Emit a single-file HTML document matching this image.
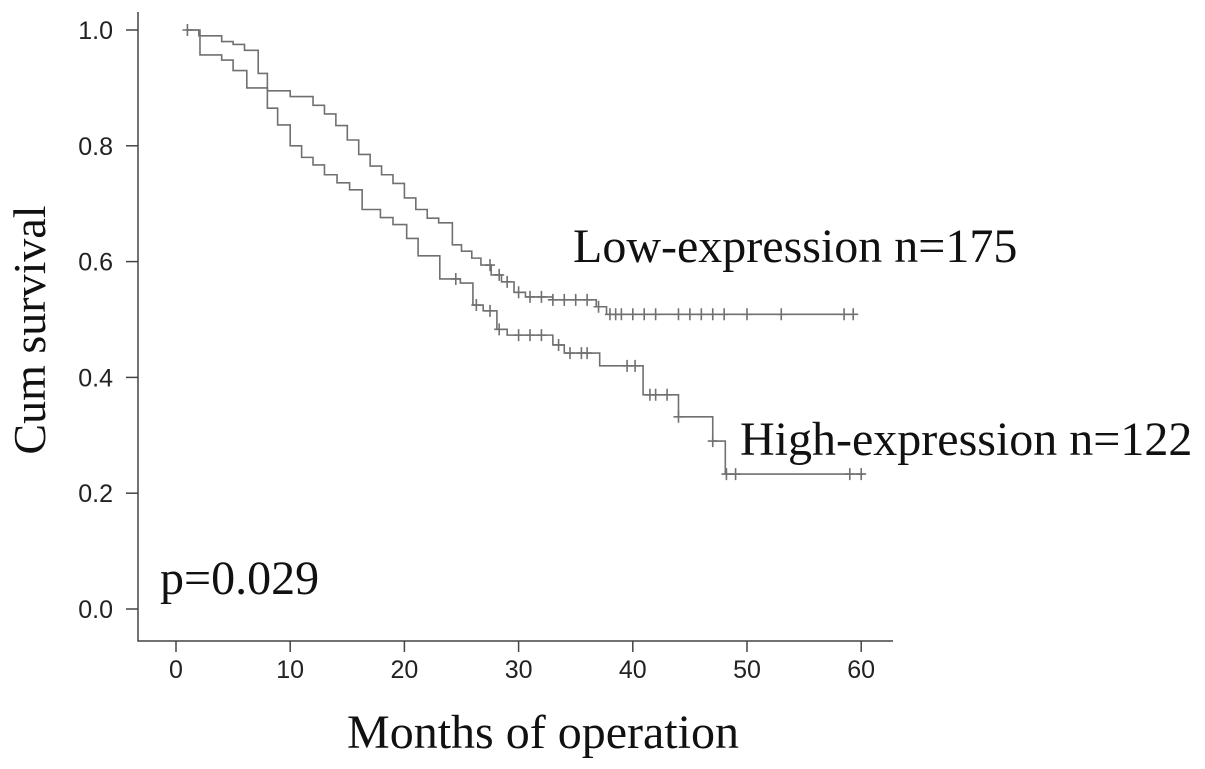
<!DOCTYPE html>
<html><head><meta charset="utf-8"><style>
body{margin:0;background:#fff;}
svg{display:block;}
.tk{font-family:"Liberation Sans",sans-serif;font-size:25px;fill:#222;}
.sf{font-family:"Liberation Serif",serif;fill:#111;}
</style></head><body>
<svg id="chart" width="1205" height="769" viewBox="0 0 1205 769">
<g id="axes"></g><g id="curves"></g>
<text class="sf" font-size="46" transform="translate(45,330) rotate(-90)" text-anchor="middle">Cum survival</text>
<text class="sf" font-size="48" x="543" y="748" text-anchor="middle">Months of operation</text>
<text class="sf" font-size="48" x="573" y="262">Low-expression n=175</text>
<text class="sf" font-size="48" x="740" y="455">High-expression n=122</text>
<text class="sf" font-size="48" x="160" y="594">p=0.029</text>
</svg>
<script>
const xTicks=[0,10,20,30,40,50,60];
const yTicks=[0.0,0.2,0.4,0.6,0.8,1.0];
const lowTimes=[0.9,2,4,5,6,7.2,8,10,12,13,14,15,16,17,18,19,20,21,22,23,24.2,25,25.9,26.7,27.6,28.5,29.6,30.6,33,36.8,37.7];
const lowSurv=[1.0,0.99,0.98,0.975,0.965,0.925,0.895,0.885,0.87,0.855,0.835,0.81,0.785,0.765,0.75,0.735,0.71,0.69,0.675,0.667,0.629,0.618,0.606,0.594,0.577,0.565,0.547,0.539,0.534,0.522,0.509];
const lowEnd=59.3;
const lowCensor=[27.5,28.3,29,30,31,32,33,34,35,36,37,38,38.5,39,40,41,42,44,45,46,47,48,50,53,58.5,59.3];
const highTimes=[0.9,2.1,4,5,6.2,8,8.9,10,11,12,13,14.1,15.2,16.3,17.9,19,20.2,21.2,23.1,24.9,26,26.9,28.1,29,33,34,37.1,40.9,44,47,48.1];
const highSurv=[1.0,0.957,0.948,0.93,0.9,0.865,0.836,0.8,0.78,0.767,0.75,0.736,0.724,0.69,0.676,0.664,0.64,0.61,0.57,0.563,0.525,0.515,0.483,0.473,0.456,0.442,0.42,0.37,0.332,0.29,0.233];
const highEnd=60.2;
const highCensor=[1,24.5,26.3,27.5,28.3,30,31,32,33.5,34.5,35.5,36,39.5,40.2,41.5,42,43,44,47,48.2,49,59,60];
const X=t=>176+t*11.42, Y=v=>609-v*579;
const NS="http://www.w3.org/2000/svg";
function mk(tag,attrs,parent){const e=document.createElementNS(NS,tag);for(const k in attrs)e.setAttribute(k,attrs[k]);parent.appendChild(e);return e;}
const ax=document.getElementById('axes');
let a=mk('path',{d:'M138,12V641H893',fill:'none',stroke:'#444','stroke-width':1.5},ax);


yTicks.forEach(v=>{
 const l=mk('line',{x1:126,x2:138,y1:Y(v),y2:Y(v),stroke:'#444','stroke-width':1.5},ax);
 
 
 const t=mk('text',{x:113,y:Y(v)+9,'text-anchor':'end',class:'tk'},ax);t.textContent=v.toFixed(1);
 
 
});
xTicks.forEach(v=>{
 const l=mk('line',{x1:X(v),x2:X(v),y1:641,y2:652,stroke:'#444','stroke-width':1.5},ax);
 
 
 const t=mk('text',{x:X(v),y:678,'text-anchor':'middle',class:'tk'},ax);t.textContent=v;
 
 
});
const cg=document.getElementById('curves');
function survAt(times,surv,t){let s=surv[0];for(let i=0;i<times.length;i++){if(times[i]<=t)s=surv[i];}return s;}
function curve(times,surv,end,cens,name){
 let d='M'+X(times[0])+','+Y(surv[0]);
 for(let i=1;i<times.length;i++){d+='H'+X(times[i])+'V'+Y(surv[i]);}
 d+='H'+X(end);
 const p=mk('path',{d:d,fill:'none',stroke:'#707070','stroke-width':1.6},cg);
 
 
 cens.forEach(t=>{const x=X(t),y=Y(survAt(times,surv,t));
  const c=mk('path',{d:`M${x},${y-6}V${y+6}M${x-5},${y}H${x+5}`,stroke:'#707070','stroke-width':1.6},cg);
  
  
 });
}
curve(lowTimes,lowSurv,lowEnd,lowCensor,'low-expression');
curve(highTimes,highSurv,highEnd,highCensor,'high-expression');
</script>
</body></html>
